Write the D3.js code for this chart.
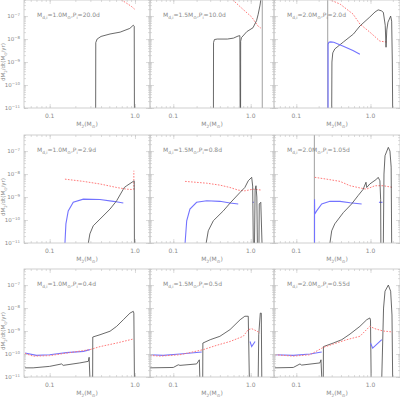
<!DOCTYPE html>
<html>
<head>
<meta charset="utf-8">
<script src="https://cdnjs.cloudflare.com/ajax/libs/d3/7.8.5/d3.min.js"></script>
<style>
  body { margin: 0; background: #fff; }
  text { font-family: "DejaVu Sans", sans-serif; fill: #8a8a8a; }
</style>
</head>
<body>
<svg width="400" height="398"></svg>
<script>
// donor masses (columns) and initial periods (rows)
const donorMass = ["1.0", "1.5", "2.0"];
const periods = [["20.0", "10.0", "2.0"], ["2.9", "0.8", "1.05"], ["0.4", "0.5", "0.55"]];
const xMaxByCol = [1.5, 2.0, 2.5];
const xTickLabels = [0.1, 1.0];
const yTickExps = [-11, -10, -9, -8, -7];

// [M2, dM2/dt], 1e-11 = floor of the plot
const blackA = [[0.346,1e-11],[0.347,7e-9],[0.36,1.0e-8],[0.40,1.3e-8],[0.51,1.66e-8],[0.67,2.0e-8],[0.87,2.9e-8],[0.955,4.0e-8],[0.98,3.6e-8],[0.985,1e-11]];
const redA = [[0.6,7e-7],[0.67,5.5e-7],[0.8,3.6e-7],[0.9,2.7e-7],[0.99,2.0e-7]];

const blackB1 = [[0.33,1e-11],[0.331,7e-9],[0.34,9.5e-9],[0.37,1.0e-8],[0.5,1.0e-8],[0.6,1.1e-8],[0.686,1.35e-8],[0.725,1.4e-8],[0.73,1e-11]];
const blackB2 = [[0.74,1e-11],[0.742,8e-9],[0.76,1.15e-8],[0.89,2.1e-8],[1.07,3.1e-8],[1.19,6.3e-8],[1.25,1.2e-7],[1.32,3e-7],[1.36,6e-7],[1.38,1e-6]];
const grayB = [[1.41,1e-6],[1.41,1e-11]];
const redB = [[0.5,7e-7],[0.57,5.5e-7],[0.79,2.0e-7],[1.03,9.1e-8],[1.24,3.7e-8],[1.35,3.0e-8]];

const grayC = [[0.265,1e-6],[0.265,1e-11]];
const blueC = [[0.268,1e-11],[0.268,6.0e-9],[0.275,7.2e-9],[0.29,7.5e-9],[0.32,7.2e-9],[0.43,4.9e-9],[0.58,3.2e-9],[0.72,2.2e-9]];
const blackC = [[0.30,1e-11],[0.302,1e-9],[0.31,2.5e-9],[0.33,3.7e-9],[0.43,7.4e-9],[0.59,1.66e-8],[0.72,3.7e-8],[0.98,9.1e-8],[1.15,1.5e-7],[1.27,1.86e-7],[1.40,1.7e-7],[1.49,1.45e-7],[1.58,4e-8],[1.62,4.4e-9],[1.66,2.5e-8],[1.72,5.4e-8],[1.87,1.0e-7],[1.93,6e-8],[1.97,1e-9],[1.99,1e-11]];
const redC = [[0.24,8e-7],[0.27,5.5e-7],[0.39,3.3e-7],[0.58,1.23e-7],[0.72,4.5e-8],[0.98,2.0e-8],[1.34,8.1e-9],[1.65,7.4e-9]];

const redD = [[0.151,6.0e-9],[0.248,4.8e-9],[0.389,3.7e-9],[0.61,2.6e-9],[0.80,2.2e-9],[0.955,2.1e-9]];
const redD2 = [[0.97,2.1e-9],[0.97,1.4e-8]];
const blueD = [[0.151,1e-11],[0.155,6.8e-11],[0.165,2.5e-10],[0.189,5.9e-10],[0.248,8.1e-10],[0.389,7.8e-10],[0.557,6.5e-10],[0.73,5.5e-10]];
const blackD = [[0.284,1e-11],[0.296,2.5e-11],[0.324,5.6e-11],[0.389,1.1e-10],[0.51,3.0e-10],[0.61,6.9e-10],[0.73,2.2e-9],[0.75,2.6e-9],[0.80,3.1e-9],[0.955,4.8e-9],[0.98,5e-9],[0.985,1e-11]];

const redE = [[0.142,4.8e-9],[0.27,4.0e-9],[0.40,3.3e-9],[0.54,2.6e-9],[0.69,2.0e-9],[0.84,1.86e-9],[1.08,2.2e-9],[1.39,2.0e-9]];
const blueE = [[0.142,1e-11],[0.149,9.3e-11],[0.164,3.0e-10],[0.20,5.9e-10],[0.27,6.9e-10],[0.40,6.5e-10],[0.54,5.5e-10],[0.69,5.0e-10]];
const blueE2 = [[1.06,5.9e-10],[1.1,5.9e-10]];
const blackE = [[0.266,1e-11],[0.283,3.4e-11],[0.329,9.3e-11],[0.443,2.5e-10],[0.54,5.4e-10],[0.73,1.6e-9],[0.84,2.6e-9],[0.93,5.1e-9],[1.03,7.2e-9],[1.06,3e-9],[1.08,1e-11]];
const blackE2 = [[1.12,1e-11],[1.14,2e-9],[1.17,3.1e-9],[1.2,1e-9],[1.22,1e-11]];
const blackE3 = [[1.28,1e-11],[1.29,5e-10],[1.35,5.9e-10],[1.40,1e-11]];

const grayF = [[0.175,1e-6],[0.175,1e-11]];
const blueF = [[0.176,1e-11],[0.176,8.1e-10],[0.177,1.8e-10],[0.188,2.5e-10],[0.22,5.0e-10],[0.284,6.5e-10],[0.388,6.5e-10],[0.53,5.6e-10],[0.76,5.0e-10]];
const blueF2 = [[1.3,5.9e-10],[1.45,5.9e-10]];
const blackF = [[0.284,1e-11],[0.30,3.4e-11],[0.33,6.8e-11],[0.43,2.1e-10],[0.557,5.0e-10],[0.68,1.15e-9],[0.80,2.2e-9],[0.81,2.5e-9],[0.87,4.4e-9],[0.89,2.6e-9],[0.98,3.7e-9],[1.21,6.0e-9],[1.27,7.2e-9],[1.34,5.1e-9],[1.37,8e-10],[1.38,1e-11]];
const blackF2 = [[1.49,1e-11],[1.52,1e-8],[1.57,6.3e-8],[1.74,1.45e-7],[1.83,1.0e-7],[1.90,2e-8],[1.93,1e-11]];
const redF = [[0.177,7.2e-9],[0.256,6.0e-9],[0.388,4.8e-9],[0.53,3.1e-9],[0.76,2.4e-9],[0.88,2.2e-9],[1.15,3.1e-9],[1.49,3.1e-9],[2.03,2.6e-9]];

const blueG = [[0.0514,1.1e-10],[0.07,8.7e-11],[0.10,9.3e-11],[0.158,1.15e-10],[0.248,1.3e-10],[0.296,1.55e-10]];
const redG = [[0.0514,1.05e-10],[0.064,8.1e-11],[0.10,8.5e-11],[0.158,1.1e-10],[0.296,1.55e-10],[0.389,2.1e-10],[0.61,3.0e-10],[0.955,4.5e-10]];
const blackG1 = [[0.0514,2.5e-11],[0.064,2.5e-11],[0.10,2.9e-11],[0.138,3.7e-11],[0.144,3.2e-11],[0.226,4.1e-11],[0.284,4.8e-11],[0.29,7.2e-11],[0.296,1e-11]];
const blackG2 = [[0.319,1e-11],[0.32,5.5e-10],[0.389,6.9e-10],[0.51,9.8e-10],[0.61,1.6e-9],[0.73,3.1e-9],[0.873,6.0e-9],[0.955,7.2e-9],[0.97,6.0e-9],[0.985,1e-11]];

const blueH = [[0.05,9.3e-11],[0.074,8.7e-11],[0.122,1.0e-10],[0.20,1.17e-10],[0.233,1.23e-10]];
const redH = [[0.05,8.7e-11],[0.067,8.1e-11],[0.122,9.3e-11],[0.244,1.55e-10],[0.364,2.4e-10],[0.54,3.5e-10],[0.80,5.9e-10],[0.93,1.15e-9],[1.03,1.26e-9],[1.20,1.0e-9],[1.32,8.1e-10]];
const blueH2 = [[0.98,3.5e-10],[1.03,2.1e-10],[1.14,3.5e-10]];
const blackH1 = [[0.05,2.5e-11],[0.10,2.6e-11],[0.116,3.4e-11],[0.122,3.2e-11],[0.20,3.7e-11],[0.217,5.6e-11],[0.22,1e-11]];
const blackH2 = [[0.24,1e-11],[0.241,3.0e-10],[0.30,4.2e-10],[0.40,5.9e-10],[0.54,1.15e-9],[0.73,3.1e-9],[0.84,4.4e-9],[0.93,4.4e-9],[0.96,1e-11]];
const blackH3 = [[1.25,1e-11],[1.27,6.9e-10],[1.33,6e-9],[1.37,6e-9],[1.39,1e-11]];

const blueI = [[0.0516,9.3e-11],[0.091,8.7e-11],[0.153,1.0e-10],[0.22,1.23e-10]];
const redI = [[0.0516,9.3e-11],[0.091,8.1e-11],[0.153,9.3e-11],[0.231,1.95e-10],[0.315,2.7e-10],[0.477,4.2e-10],[0.72,5.9e-10],[0.98,1.6e-9],[1.15,1.26e-9],[1.49,1.0e-9],[1.99,9.1e-10]];
const blueI2 = [[1.0,3.0e-10],[1.07,1.8e-10],[1.42,4.2e-10]];
const blackI1 = [[0.0516,2.5e-11],[0.091,2.6e-11],[0.112,3.7e-11],[0.118,3.3e-11],[0.208,4.1e-11],[0.215,5.6e-11],[0.22,1e-11]];
const blackI2 = [[0.231,1e-11],[0.232,2.1e-10],[0.315,3.0e-10],[0.41,4.2e-10],[0.53,7.4e-10],[0.72,1.6e-9],[0.89,3.1e-9],[0.98,3.7e-9],[1.0,3e-9],[1.02,1e-11]];
const blackI3 = [[1.42,1e-11],[1.5,1e-8],[1.57,5.4e-8],[1.74,1.0e-7],[1.87,5.4e-8],[1.95,5e-9],[1.99,1e-11]];

// series per panel, row by row
const panels = [
  [{ k: "red", d: redA }, { k: "black", d: blackA }],
  [{ k: "red", d: redB }, { k: "black", d: blackB1 }, { k: "black", d: blackB2 }, { k: "gray", d: grayB }],
  [{ k: "gray", d: grayC }, { k: "red", d: redC }, { k: "black", d: blackC }, { k: "blue", d: blueC }],
  [{ k: "red", d: redD }, { k: "red", d: redD2 }, { k: "blue", d: blueD }, { k: "black", d: blackD }],
  [{ k: "red", d: redE }, { k: "blue", d: blueE }, { k: "blue", d: blueE2 }, { k: "black", d: blackE }, { k: "black", d: blackE2 }, { k: "black", d: blackE3 }],
  [{ k: "gray", d: grayF }, { k: "red", d: redF }, { k: "blue", d: blueF }, { k: "blue", d: blueF2 }, { k: "black", d: blackF }, { k: "black", d: blackF2 }],
  [{ k: "black", d: blackG1 }, { k: "black", d: blackG2 }, { k: "blue", d: blueG }, { k: "red", d: redG }],
  [{ k: "black", d: blackH1 }, { k: "black", d: blackH2 }, { k: "black", d: blackH3 }, { k: "blue", d: blueH }, { k: "blue", d: blueH2 }, { k: "red", d: redH }],
  [{ k: "black", d: blackI1 }, { k: "black", d: blackI2 }, { k: "black", d: blackI3 }, { k: "blue", d: blueI }, { k: "blue", d: blueI2 }, { k: "red", d: redI }]
];

const colX = [24, 150, 274];
const colW = [126, 124, 126];
const rowY = [0, 135, 269];
const ph = 108;
const frameColor = "#c4c4c4";

const style = {
  black: { stroke: "#444", width: 0.8, dash: null },
  gray: { stroke: "#888", width: 0.8, dash: null },
  blue: { stroke: "#7373ff", width: 1.1, dash: null },
  red: { stroke: "#ff7a7a", width: 1.0, dash: "1.6,1.4" }
};

const svg = d3.select("svg");

// text with sub/superscripts
function rich(t, parts, size) {
  let shift = 0;
  parts.forEach(function (p) {
    const want = p[1] === "sub" ? size * 0.3 : p[1] === "sup" ? -size * 0.45 : 0;
    t.append("tspan")
      .attr("dy", want - shift)
      .attr("font-size", p[1] ? size * 0.72 : size)
      .text(p[0]);
    shift = want;
  });
}

function minorTicks(lo, hi) {
  const out = [];
  for (let e = Math.floor(Math.log10(lo)); e <= Math.ceil(Math.log10(hi)); e++) {
    for (let k = 1; k <= 9; k++) {
      const v = k * Math.pow(10, e);
      if (v >= lo * 0.999 && v <= hi * 1.001) out.push(v);
    }
  }
  return out;
}

for (let r = 0; r < 3; r++) {
  for (let c = 0; c < 3; c++) {
    const left = colX[c], top = rowY[r], w = colW[c];
    const x = d3.scaleLog().domain([0.05, xMaxByCol[c]]).range([0, w]);
    const y = d3.scaleLog().domain([1e-11, 5e-7]).range([ph, 0]);
    const g = svg.append("g").attr("transform", "translate(" + left + "," + top + ")");
    const id = "clip" + r + c;

    g.append("clipPath").attr("id", id)
      .append("rect").attr("width", w).attr("height", ph);

    const line = d3.line()
      .x(function (d) { return x(d[0]); })
      .y(function (d) { return y(d[1]); });

    const lines = g.append("g").attr("clip-path", "url(#" + id + ")");
    panels[r * 3 + c].forEach(function (s) {
      const st = style[s.k];
      lines.append("path")
        .attr("d", line(s.d))
        .attr("fill", "none")
        .attr("stroke", st.stroke)
        .attr("stroke-width", st.width)
        .attr("stroke-dasharray", st.dash);
    });

    // ticks, inward on all four sides
    const yMajor = yTickExps.map(function (e) { return Math.pow(10, e); });
    const yMinor = minorTicks(1e-11, 5e-7);
    const xMinor = minorTicks(0.05, xMaxByCol[c]);
    const axes = [
      [d3.axisLeft(y).tickValues(yMinor).tickSize(-2), 0, 0],
      [d3.axisLeft(y).tickValues(yMajor).tickSize(-4), 0, 0],
      [d3.axisRight(y).tickValues(yMinor).tickSize(-2), w, 0],
      [d3.axisRight(y).tickValues(yMajor).tickSize(-4), w, 0],
      [d3.axisBottom(x).tickValues(xMinor).tickSize(-2), 0, ph],
      [d3.axisBottom(x).tickValues(xTickLabels).tickSize(-4), 0, ph],
      [d3.axisTop(x).tickValues(xMinor).tickSize(-2), 0, 0],
      [d3.axisTop(x).tickValues(xTickLabels).tickSize(-4), 0, 0]
    ];
    axes.forEach(function (a) {
      const ag = g.append("g")
        .attr("transform", "translate(" + a[1] + "," + a[2] + ")")
        .call(a[0].tickFormat(""));
      ag.select(".domain").remove();
      ag.selectAll("line").attr("stroke", frameColor).attr("stroke-width", 0.6);
    });

    g.append("rect")
      .attr("width", w).attr("height", ph)
      .attr("fill", "none").attr("stroke", frameColor).attr("stroke-width", 0.8);

    // x tick labels
    xTickLabels.forEach(function (v) {
      g.append("text")
        .attr("x", x(v)).attr("y", ph + 10)
        .attr("text-anchor", "middle")
        .attr("font-size", 6)
        .text(d3.format(".1f")(v));
    });

    // x title
    const xt = g.append("text")
      .attr("x", w / 2).attr("y", ph + 18)
      .attr("text-anchor", "middle");
    rich(xt, [["M", ""], ["2", "sub"], ["(M", ""], ["\u2299", "sub"], [")", ""]], 6);

    // panel annotation
    const ann = g.append("text").attr("x", 13).attr("y", 17);
    rich(ann, [["M", ""], ["d,i", "sub"], ["=" + donorMass[c] + "M", ""], ["\u2299", "sub"],
               [",P", ""], ["i", "sub"], ["=" + periods[r][c] + "d", ""]], 6);

    if (c === 0) {
      yTickExps.forEach(function (e) {
        const t = g.append("text")
          .attr("x", -4).attr("y", y(Math.pow(10, e)) + 2)
          .attr("text-anchor", "end");
        rich(t, [["10", ""], [String(e).replace("-", "\u2212"), "sup"]], 5.5);
      });
      const yl = g.append("text")
        .attr("transform", "translate(-19," + (ph / 2 + 8) + ") rotate(-90)")
        .attr("text-anchor", "middle");
      rich(yl, [["dM", ""], ["2", "sub"], ["/dt(M", ""], ["\u2299", "sub"], ["/yr)", ""]], 5.5);
    }
  }
}
</script>
</body>
</html>
